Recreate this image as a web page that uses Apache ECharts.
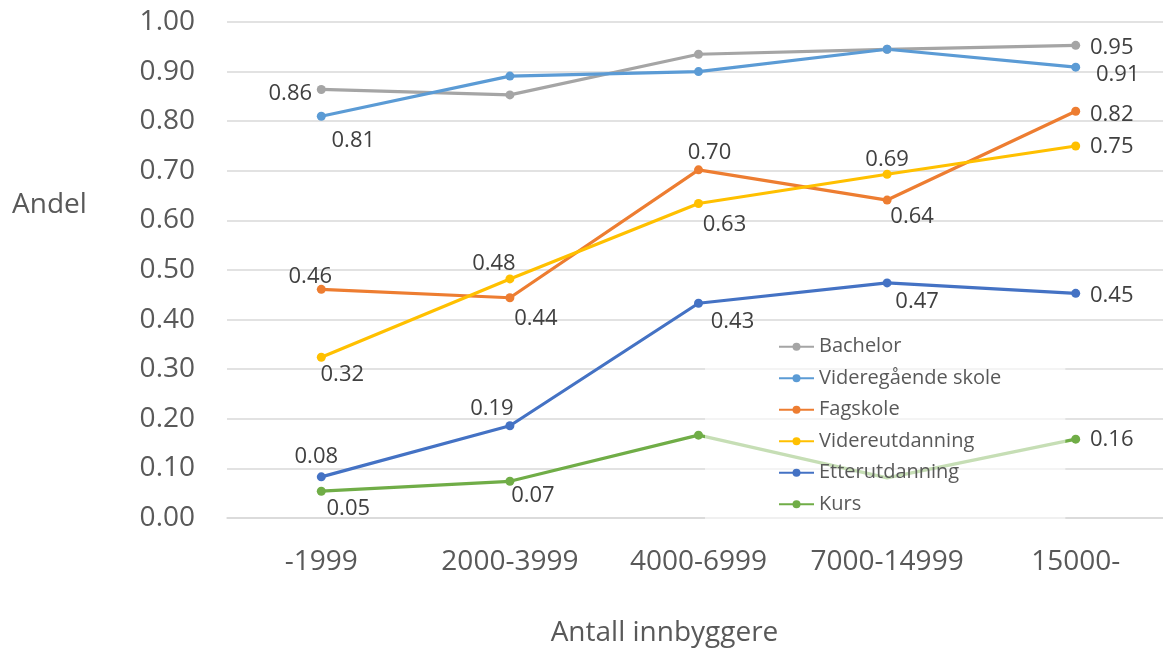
<!DOCTYPE html>
<html>
<head>
<meta charset="utf-8">
<script src="https://cdn.jsdelivr.net/npm/echarts@6/dist/echarts.min.js"></script>
<style>
    html, body { margin: 0; padding: 0; background: #fff; }
    #chart { width: 1163px; height: 649px; }
</style>
</head>
<body>
<div id="chart"></div>
<script>
    // kategorier og verdier lest av figuren
    let categories = ['-1999', '2000-3999', '4000-6999', '7000-14999', '15000-'];
    let seriesNames = ['Bachelor', 'Videregående skole', 'Fagskole', 'Videreutdanning', 'Etterutdanning', 'Kurs'];

    let bachelor = [0.864, 0.853, 0.935, 0.945, 0.953];
    let videregaende = [0.810, 0.891, 0.900, 0.945, 0.909];
    let fagskole = [0.461, 0.444, 0.702, 0.641, 0.820];
    let videreutdanning = [0.324, 0.482, 0.634, 0.693, 0.750];
    let etterutdanning = [0.083, 0.186, 0.433, 0.474, 0.453];
    let kurs = [0.054, 0.074, 0.167, 0.081, 0.159];

    let yTicks = [0, 0.1, 0.2, 0.3, 0.4, 0.5, 0.6, 0.7, 0.8, 0.9, 1.0];

    let colors = ['#A5A5A5', '#5B9BD5', '#ED7D31', '#FFC000', '#4472C4', '#70AD47'];

    // plassering av dataetiketter (null = ingen etikett)
    let labelOffsets = [
        [[-31, 4], null, null, null, [36, 2]],
        [[32, 24], null, null, null, [42, 8]],
        [[-11, -13], [26, 21], [11, -17], [25, 17], [36, 3]],
        [[21, 17], [-16, -15], [26, 21], [0, -15], [36, 1]],
        [[-5, -20], [-18, -17], [34, 19], [30, 19], [36, 2]],
        [[27, 18], [23, 14], null, null, [36, 1]]
    ];

    let allValues = [bachelor, videregaende, fagskole, videreutdanning, etterutdanning, kurs];

    function buildSeries() {
        let list = [];
        allValues.forEach(function (vals, i) {
            let data = vals.map(function (v, j) {
                let off = labelOffsets[i][j];
                let item = { value: v };
                if (off) {
                    item.label = { show: true, position: 'inside', offset: off };
                }
                // Kurs-punktet for 7000-14999 ligger skjult bak forklaringen
                if (i === 5 && j === 3) {
                    item.symbolSize = 0;
                }
                return item;
            });
            list.push({
                name: seriesNames[i],
                type: 'line',
                data: data,
                symbol: 'circle',
                symbolSize: 9,
                lineStyle: { width: 3.2, color: colors[i] },
                itemStyle: { color: colors[i] },
                label: {
                    show: false,
                    color: '#404040',
                    fontSize: 22,
                    fontFamily: 'Open Sans',
                    formatter: function (p) { return p.value.toFixed(2); }
                },
                z: 2
            });
        });
        return list;
    }

    let chart = echarts.init(document.getElementById('chart'));
    chart.setOption({
        animation: false,
        color: colors,
        title: {
            text: 'Andel',
            left: 7,
            top: 186,
            textStyle: { color: '#595959', fontSize: 28, fontFamily: 'Open Sans', fontWeight: 'normal' }
        },
        grid: { left: 227, top: 22, width: 943, height: 496, containLabel: false, outerBoundsMode: 'none' },
        legend: {
            orient: 'vertical',
            left: 705,
            top: 330,
            data: seriesNames,
            itemWidth: 35,
            itemHeight: 10,
            itemGap: 6,
            padding: [4, 64, 6, 73],
            backgroundColor: 'rgba(255,255,255,0.6)',
            textStyle: { color: '#595959', fontSize: 20, fontFamily: 'Open Sans', lineHeight: 25.5 },
            z: 4
        },
        xAxis: {
            type: 'category',
            data: categories,
            boundaryGap: true,
            name: 'Antall innbyggere',
            nameLocation: 'middle',
            nameGap: 101,
            nameTextStyle: { color: '#595959', fontSize: 28, fontFamily: 'Open Sans', padding: [0, 68, 0, 0] },
            axisLine: { lineStyle: { color: '#D9D9D9', width: 1.5 } },
            axisTick: { show: false },
            axisLabel: { color: '#595959', fontSize: 28, fontFamily: 'Open Sans', margin: 30, interval: 0 }
        },
        yAxis: {
            type: 'value',
            min: yTicks[0],
            max: yTicks[yTicks.length - 1],
            interval: 0.1,
            axisLine: { show: false },
            axisTick: { show: false },
            splitLine: { lineStyle: { color: '#D9D9D9', width: 1.5 } },
            axisLabel: {
                color: '#595959', fontSize: 28, fontFamily: 'Open Sans', margin: 32,
                formatter: function (v) { return v.toFixed(2); }
            }
        },
        series: buildSeries()
    });
</script>
</body>
</html>
